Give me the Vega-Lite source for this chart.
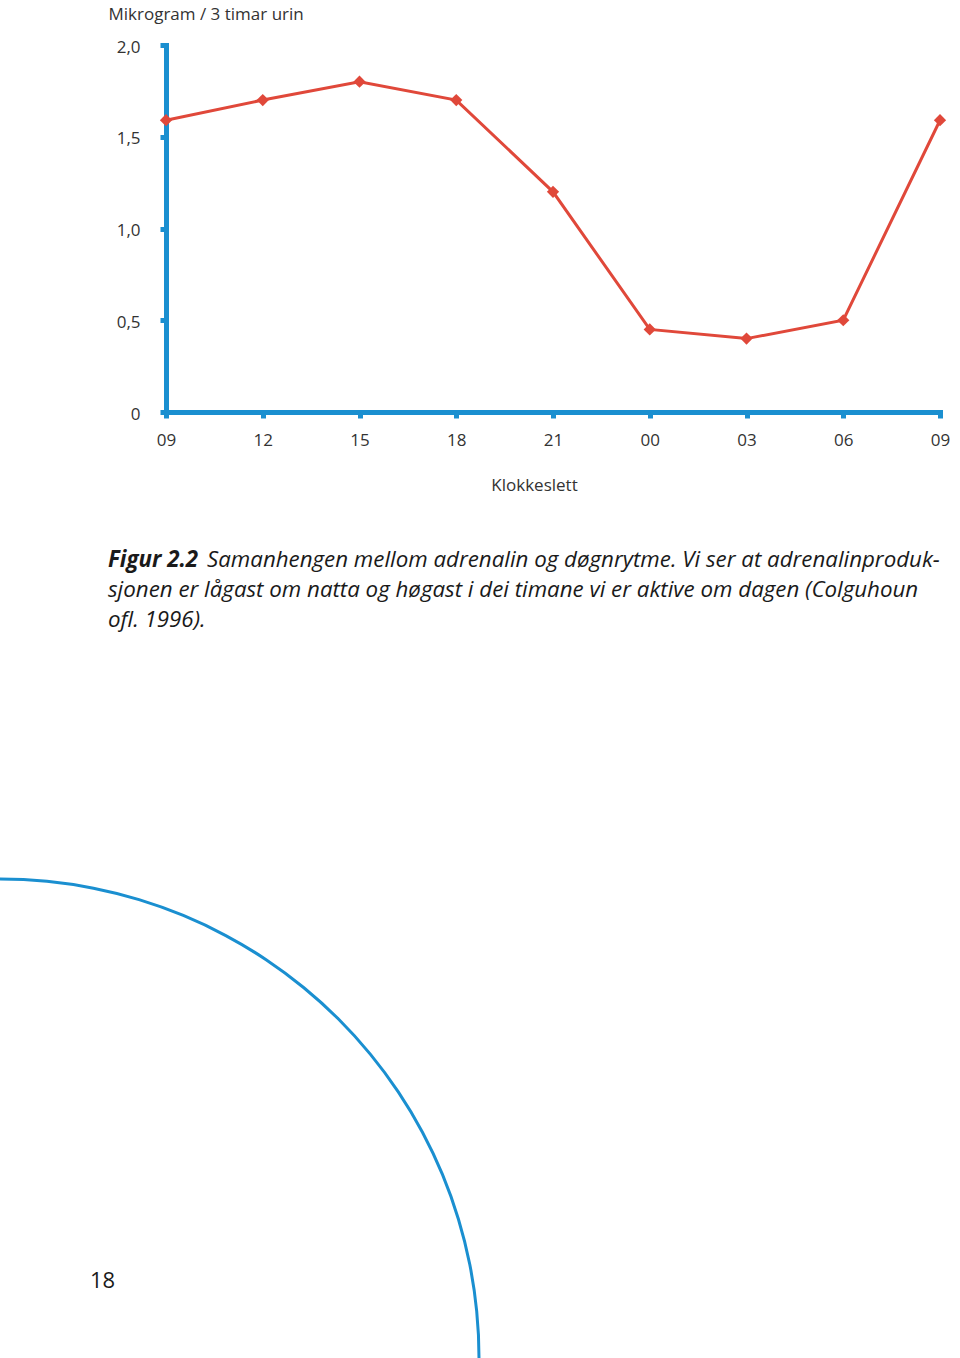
{
  "$schema": "https://vega.github.io/schema/vega-lite/v6.json",
  "width": 774,
  "height": 367,
  "autosize": {"type": "none"},
  "padding": {"left": 166, "top": 45, "right": 20, "bottom": 946},
  "background": "white",
  "config": {
    "view": {"stroke": null},
    "axis": {
      "grid": false,
      "domainColor": "#1a8fd0",
      "domainWidth": 5,
      "domainCap": "square",
      "tickColor": "#1a8fd0",
      "tickWidth": 5,
      "tickSize": 6,
      "labelFont": "Open Sans",
      "labelFontSize": 17,
      "labelColor": "#333333",
      "labelFlush": false,
      "labelOverlap": false,
      "titleFont": "Open Sans",
      "titleFontSize": 17,
      "titleFontWeight": "normal",
      "titleColor": "#333333"
    }
  },
  "datasets": {
    "adrenalin": [
      {"klokke": 9, "verdi": 1.59},
      {"klokke": 12, "verdi": 1.70},
      {"klokke": 15, "verdi": 1.80},
      {"klokke": 18, "verdi": 1.70},
      {"klokke": 21, "verdi": 1.20},
      {"klokke": 24, "verdi": 0.45},
      {"klokke": 27, "verdi": 0.40},
      {"klokke": 30, "verdi": 0.50},
      {"klokke": 33, "verdi": 1.59}
    ]
  },
  "data": {"name": "adrenalin"},
  "layer": [
    {
      "mark": {"type": "line", "color": "#e0483a", "strokeWidth": 3},
      "encoding": {
        "x": {
          "field": "klokke",
          "type": "quantitative",
          "scale": {"domain": [9, 33], "nice": false, "zero": false},
          "axis": {
            "values": [9, 12, 15, 18, 21, 24, 27, 30, 33],
            "labelExpr": "format(datum.value % 24, '02d')",
            "labelPadding": 14,
            "title": "Klokkeslett",
            "titleX": 368,
            "titleY": 78,
            "titleAlign": "center",
            "titleBaseline": "alphabetic"
          }
        },
        "y": {
          "field": "verdi",
          "type": "quantitative",
          "scale": {"domain": [0, 2], "nice": false},
          "axis": {
            "values": [0, 0.5, 1, 1.5, 2],
            "labelExpr": "datum.value == 0 ? '0' : replace(format(datum.value, '.1f'), '.', ',')",
            "labelPadding": 20,
            "labelOffset": 2,
            "title": "Mikrogram / 3 timar urin",
            "titleAngle": 0,
            "titleX": -58,
            "titleY": -26,
            "titleAlign": "left",
            "titleBaseline": "alphabetic"
          }
        }
      }
    },
    {
      "mark": {"type": "point", "shape": "diamond", "filled": true, "size": 150, "color": "#e0483a", "opacity": 1},
      "encoding": {
        "x": {"field": "klokke", "type": "quantitative"},
        "y": {"field": "verdi", "type": "quantitative"}
      }
    },
    {
      "data": {"values": [{}]},
      "mark": {"type": "text", "text": "Figur 2.2", "font": "Open Sans", "fontSize": 22.3, "fontStyle": "italic", "fontWeight": "bold", "color": "#1a1a1a", "align": "left", "baseline": "alphabetic"},
      "encoding": {
        "x": {"datum": 7.2016, "type": "quantitative"},
        "y": {"datum": -0.8447, "type": "quantitative"}
      }
    },
    {
      "data": {"values": [{}]},
      "mark": {"type": "text", "text": "Samanhengen mellom adrenalin og døgnrytme. Vi ser at adrenalinproduk-", "font": "Open Sans", "fontSize": 22.3, "fontStyle": "italic", "color": "#1a1a1a", "align": "left", "baseline": "alphabetic"},
      "encoding": {
        "x": {"datum": 10.2713, "type": "quantitative"},
        "y": {"datum": -0.8447, "type": "quantitative"}
      }
    },
    {
      "data": {"values": [{}]},
      "mark": {"type": "text", "text": "sjonen er lågast om natta og høgast i dei timane vi er aktive om dagen (Colguhoun", "font": "Open Sans", "fontSize": 22.3, "fontStyle": "italic", "color": "#1a1a1a", "align": "left", "baseline": "alphabetic"},
      "encoding": {
        "x": {"datum": 7.2016, "type": "quantitative"},
        "y": {"datum": -1.0082, "type": "quantitative"}
      }
    },
    {
      "data": {"values": [{}]},
      "mark": {"type": "text", "text": "ofl. 1996).", "font": "Open Sans", "fontSize": 22.3, "fontStyle": "italic", "color": "#1a1a1a", "align": "left", "baseline": "alphabetic"},
      "encoding": {
        "x": {"datum": 7.2016, "type": "quantitative"},
        "y": {"datum": -1.1717, "type": "quantitative"}
      }
    },
    {
      "data": {"values": [{}]},
      "mark": {"type": "text", "text": "18", "font": "Open Sans", "fontSize": 22, "color": "#1a1a1a", "align": "left", "baseline": "alphabetic"},
      "encoding": {
        "x": {"datum": 6.6434, "type": "quantitative"},
        "y": {"datum": -4.774, "type": "quantitative"}
      }
    },
    {
      "data": {"values": [{}]},
      "mark": {"type": "arc", "theta": 0, "theta2": 1.5708, "radius": 480.5, "radius2": 477.5, "color": "#1a8fd0"},
      "encoding": {
        "x": {"datum": 3.8527, "type": "quantitative"},
        "y": {"datum": -5.1553, "type": "quantitative"}
      }
    }
  ]
}
